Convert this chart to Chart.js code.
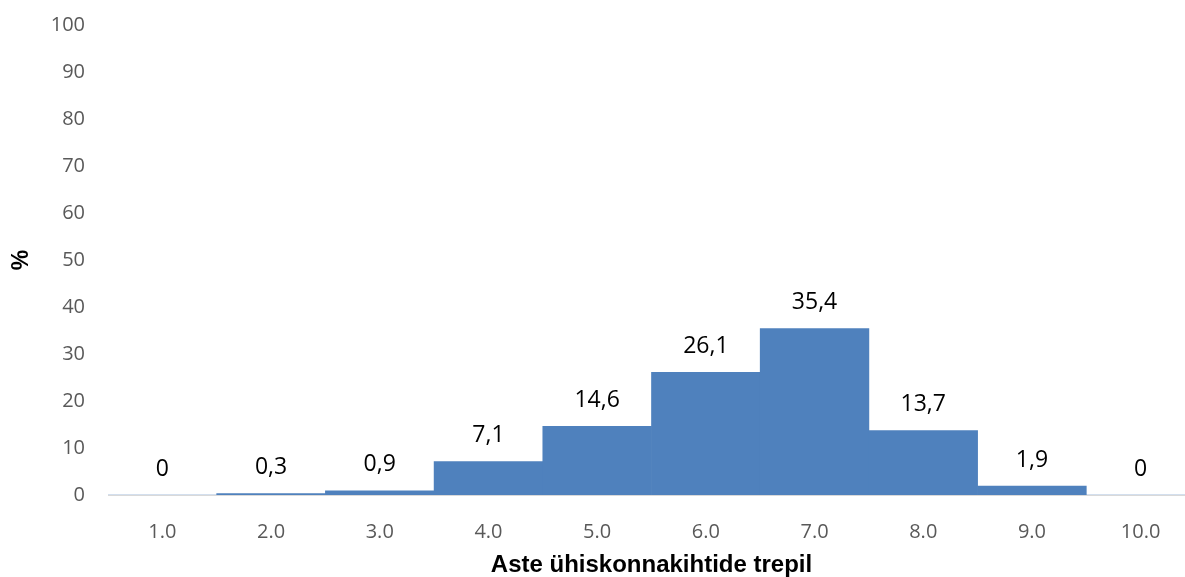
<!DOCTYPE html>
<html>
<head>
<meta charset="utf-8">
<script src="https://cdn.jsdelivr.net/npm/chart.js@4/dist/chart.umd.min.js"></script>
<style>
html,body{margin:0;padding:0;background:#fff;overflow:hidden;width:1185px;height:577px;}
#wrap{position:absolute;left:0;top:0;width:1195px;height:577px;}
</style>
</head>
<body>
<div id="wrap"><canvas id="c" width="1195" height="577"></canvas></div>
<script>
const categories = ["1.0","2.0","3.0","4.0","5.0","6.0","7.0","8.0","9.0","10.0"];
const values = [0, 0.3, 0.9, 7.1, 14.6, 26.1, 35.4, 13.7, 1.9, 0];
const yTicks = [0,10,20,30,40,50,60,70,80,90,100];
const xTitle = "Aste ühiskonnakihtide trepil";
const yTitle = "%";

const labelPlugin = {
  id: 'valueLabels',
  afterDatasetsDraw(chart) {
    const ctx = chart.ctx;
    const meta = chart.getDatasetMeta(0);
    ctx.save();
    ctx.font = '23px "Open Sans", Lato, sans-serif';
    ctx.fillStyle = '#000';
    ctx.textAlign = 'center';
    ctx.textBaseline = 'middle';
    meta.data.forEach((bar, i) => {
      const txt = String(values[i]).replace('.', ',');
      ctx.fillText(txt, bar.x, bar.y - 26);
    });
    ctx.restore();
  }
};

new Chart(document.getElementById('c'), {
  type: 'bar',
  data: {
    labels: categories,
    datasets: [{
      data: values,
      backgroundColor: '#4F81BD',
      borderWidth: 0,
      categoryPercentage: 1.0,
      barPercentage: 1.0
    }]
  },
  options: {
    responsive: false,
    animation: false,
    devicePixelRatio: 1,
    layout: { padding: { top: 0, right: 0, bottom: 0, left: 0 } },
    plugins: { legend: { display: false }, tooltip: { enabled: false } },
    scales: {
      x: {
        grid: { display: true, drawOnChartArea: false, drawTicks: false },
        border: { display: true, color: '#d9d9d9', width: 1 },
        ticks: { color: '#595959', font: { family: '"Open Sans", Lato, sans-serif', size: 20 }, padding: 25, maxRotation: 0 },
        title: { display: true, text: xTitle, color: '#000', font: { family: '"Liberation Sans", Arial, sans-serif', size: 24, weight: 'bold' }, padding: { top: 0, bottom: -3 } },
        afterFit(scale) { scale.height = 82; }
      },
      y: {
        min: 0, max: 100,
        afterBuildTicks(scale) { scale.ticks = yTicks.map(v => ({ value: v })); },
        grid: { display: false, drawTicks: false },
        border: { display: false },
        ticks: { color: '#595959', font: { family: '"Open Sans", Lato, sans-serif', size: 20 }, padding: 23 },
        title: { display: true, text: yTitle, color: '#000', font: { family: '"Liberation Sans", Arial, sans-serif', size: 23, weight: 'bold' }, padding: { top: 8, bottom: 0 } },
        afterFit(scale) { scale.width = 108; scale.paddingTop = 25; scale.paddingBottom = 0; }
      }
    }
  },
  plugins: [labelPlugin]
});
</script>
</body>
</html>
